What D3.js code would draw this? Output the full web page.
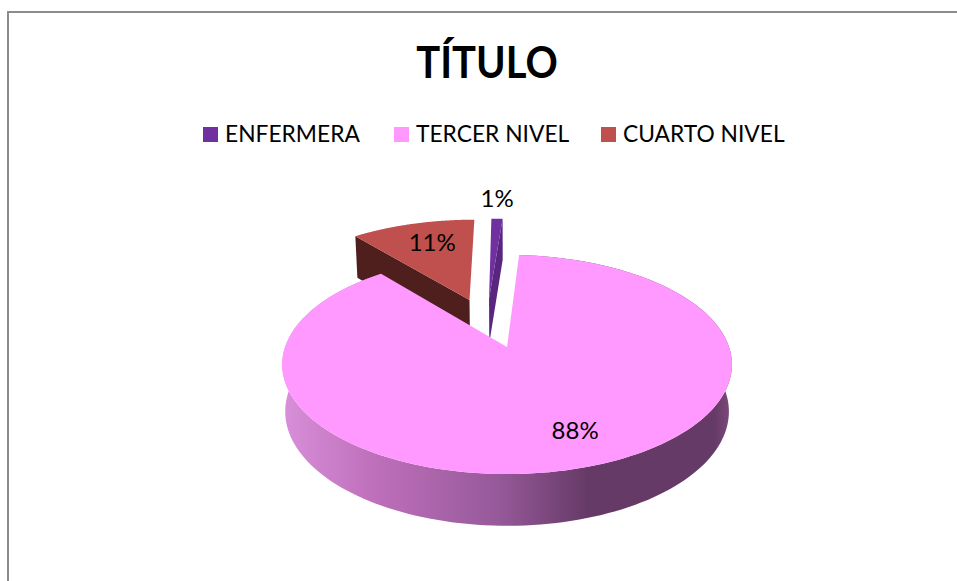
<!DOCTYPE html>
<html lang="es">
<head>
    <meta charset="UTF-8">
    <title>Título</title>
    <script src="https://d3js.org/d3.v7.min.js"></script>
    <style>
        html, body { margin: 0; background: #fff; overflow: hidden; }
        svg { display: block; }
        text { font-family: Lato, "Open Sans", sans-serif; fill: #000; }
    </style>
</head>
<body>
    <div id="chart"></div>

    <script>
        var categories = ["ENFERMERA", "TERCER NIVEL", "CUARTO NIVEL"];
        var values = [1, 88, 11];
        var colors = ["#7030a0", "#ff99ff", "#c0504d"];
        var sideColors = ["#58257f", null, "#4e1f1d"];
        var legendX = [203, 394, 601];
        var labelRadius = [1.31, 0.75, 0.72];
        var labelShiftX = [-2, 10, 5];
        var labelShiftY = [-1, -4, -2];
        var sliceShift = [-0.018, 0, -0.02];

        var width = 957,
            height = 581;

        var svg = d3.select("#chart").append("svg")
            .attr("width", width)
            .attr("height", height);

        // frame, only top and left are visible in the crop
        svg.append("path")
            .attr("d", d3.line()([[width, 12], [8, 12], [8, height]]))
            .attr("fill", "none")
            .attr("stroke", "#8c8c8c")
            .attr("stroke-width", 2);

        // Lato runs wider than the original font, so squeeze the text a little
        svg.append("text")
            .attr("transform", "translate(487,78) scale(0.93,1)")
            .attr("text-anchor", "middle")
            .attr("font-size", 43)
            .attr("font-weight", 700)
            .text("TÍTULO");

        var legend = svg.selectAll(".legend")
            .data(categories)
            .enter().append("g")
            .attr("class", "legend")
            .attr("transform", function(d, i) { return "translate(" + legendX[i] + ",127)"; });
        legend.append("rect")
            .attr("width", 15)
            .attr("height", 15)
            .attr("fill", function(d, i) { return colors[i]; });
        legend.append("text")
            .attr("transform", "translate(22,15) scale(0.95,1)")
            .attr("font-size", 24)
            .text(function(d) { return d; });

        // fake 3D: the disc goes through a small perspective so the far side is squeezed
        var k = 0.16;
        var top3d = {x0: 507, rx: 222, y0: 347, ry: 106.8};
        var bottom3d = {x0: 507, rx: 219, y0: 393.3, ry: 111.3};
        var centre = [-0.077, 0.238];
        var explode = 0.25;

        function project(face, u, v) {
            var d = 1 + k * v;
            return [face.x0 + face.rx * u / d, face.y0 - face.ry * v / d];
        }

        var slices = d3.pie().sort(null).value(function(d) { return d; })(values);

        slices.forEach(function(s, i) {
            var mid = (s.startAngle + s.endAngle) / 2;
            s.ox = centre[0] + explode * Math.sin(mid) + sliceShift[i];
            s.oy = centre[1] + explode * Math.cos(mid);
        });

        function rimPoint(face, s, a, r) {
            return project(face, s.ox + r * Math.sin(a), s.oy + r * Math.cos(a));
        }

        function rim(face, s) {
            return d3.range(0, 181).map(function(i) {
                return rimPoint(face, s, s.startAngle + (s.endAngle - s.startAngle) * i / 180, 1);
            });
        }

        var poly = d3.line();

        function topFace(s) {
            return poly([project(top3d, s.ox, s.oy)].concat(rim(top3d, s))) + "Z";
        }

        // cut face of a slice at angle a, extruded down to the bottom disc
        function cutFace(s, a) {
            return poly([
                project(top3d, s.ox, s.oy),
                rimPoint(top3d, s, a, 1),
                rimPoint(bottom3d, s, a, 1),
                project(bottom3d, s.ox, s.oy)
            ]) + "Z";
        }

        var grad = svg.append("defs").append("linearGradient")
            .attr("id", "wall")
            .attr("gradientUnits", "userSpaceOnUse")
            .attr("x1", 282).attr("x2", 732)
            .attr("y1", 0).attr("y2", 0);
        [[0, "#d98fd9"], [0.2, "#bf70bb"], [0.48, "#96599a"], [0.68, "#663a66"], [0.96, "#663a66"], [1, "#7d4c7b"]]
            .forEach(function(d) {
                grad.append("stop").attr("offset", d[0]).attr("stop-color", d[1]);
            });

        // back to front: red, purple, then the big slice on top
        var red = slices[2], purple = slices[0], pink = slices[1];

        svg.append("path").attr("d", cutFace(red, red.startAngle)).attr("fill", sideColors[2]);
        svg.append("path").attr("d", topFace(red)).attr("fill", colors[2]);

        svg.append("path").attr("d", cutFace(purple, purple.endAngle)).attr("fill", sideColors[0]);
        svg.append("path").attr("d", topFace(purple)).attr("fill", colors[0]);

        svg.append("path")
            .attr("d", poly(rim(top3d, pink).concat(rim(bottom3d, pink).reverse())) + "Z")
            .attr("fill", "url(#wall)");
        svg.append("path").attr("d", topFace(pink)).attr("fill", colors[1]);

        svg.selectAll(".label")
            .data(slices)
            .enter().append("text")
            .attr("class", "label")
            .attr("text-anchor", "middle")
            .attr("dy", "0.42em")
            .attr("font-size", 24)
            .attr("transform", function(d, i) {
                var mid = (d.startAngle + d.endAngle) / 2;
                var p = rimPoint(top3d, d, mid, labelRadius[i]);
                return "translate(" + (p[0] + labelShiftX[i]) + "," + (p[1] + labelShiftY[i]) + ")";
            })
            .text(function(d) { return d.value + "%"; });
    </script>
</body>
</html>
